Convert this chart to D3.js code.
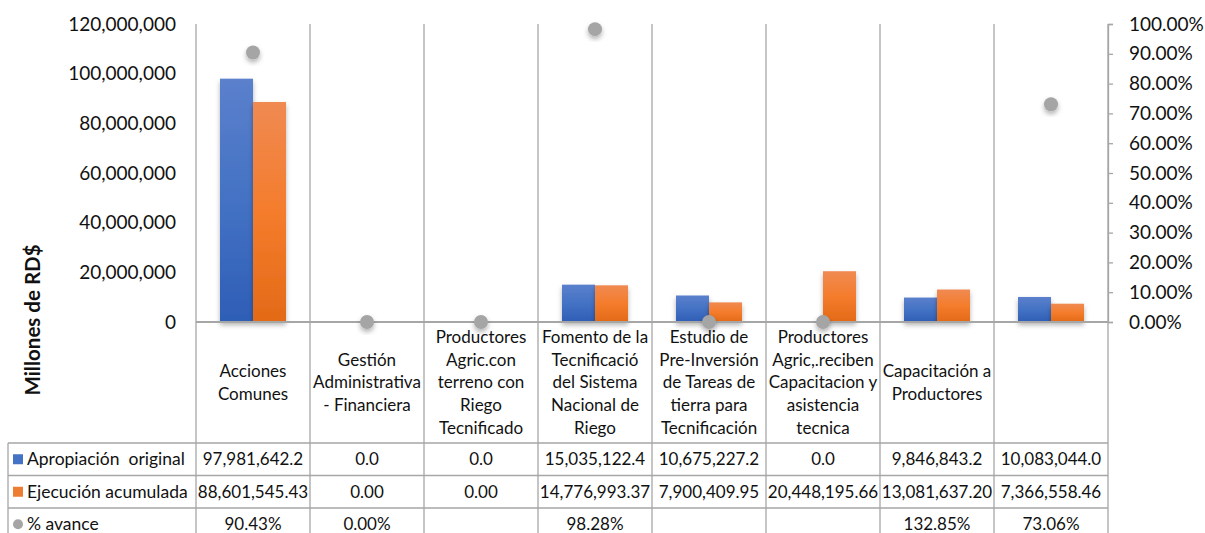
<!DOCTYPE html>
<html>
<head>
<meta charset="utf-8">
<script src="https://cdn.jsdelivr.net/npm/d3@7"></script>
<style>
  body { margin: 0; background: #fff; }
  svg { display: block; font-family: Lato, "Open Sans", sans-serif; }
</style>
</head>
<body>
<svg id="chart" width="1205" height="533"></svg>
<script>
// category labels, already split into the lines shown under the axis
const categories = [
  ["Acciones", "Comunes"],
  ["Gestión", "Administrativa", "- Financiera"],
  ["Productores", "Agric.con", "terreno con", "Riego", "Tecnificado"],
  ["Fomento de la", "Tecnificació", "del Sistema", "Nacional de", "Riego"],
  ["Estudio de", "Pre-Inversión", "de Tareas de", "tierra para", "Tecnificación"],
  ["Productores", "Agric,.reciben", "Capacitacion y", "asistencia", "tecnica"],
  ["Capacitación a", "Productores"],
  []
];

const apropiacion = [97981642.2, 0, 0, 15035122.4, 10675227.2, 0, 9846843.2, 10083044.0];
const ejecucion = [88601545.43, 0, 0, 14776993.37, 7900409.95, 20448195.66, 13081637.20, 7366558.46];
// null = empty cell in the table (Excel still plots it at 0)
const avance = [0.9043, 0, null, 0.9828, null, null, 1.3285, 0.7306];

const leftTicks = [0, 20e6, 40e6, 60e6, 80e6, 100e6, 120e6];
const rightTicks = [0, 0.1, 0.2, 0.3, 0.4, 0.5, 0.6, 0.7, 0.8, 0.9, 1];

const seriesNames = ["Apropiación  original", "Ejecución acumulada", "% avance"];

const svg = d3.select("#chart");
const gridColor = "#a6a6a6";
const textColor = "#111";

const plotLeft = 196, plotRight = 1108, plotTop = 24, plotBottom = 322;
const labelBottom = 443, rowH = 32.5, tableLeft = 8, tableBottom = 545;

const x = d3.scaleBand().domain(d3.range(categories.length)).range([plotLeft, plotRight]);
const xInner = d3.scaleBand().domain(["a", "e"]).range([24, x.bandwidth() - 24]);
const y = d3.scaleLinear().domain([0, 120e6]).range([plotBottom, plotTop]);
const yR = d3.scaleLinear().domain([0, 1]).range([plotBottom, plotTop]);

// defs: gradients + shadows
const defs = svg.append("defs");
function grad(id, top, mid, bottom) {
  const g = defs.append("linearGradient").attr("id", id)
    .attr("x1", 0).attr("y1", 0).attr("x2", 0).attr("y2", 1);
  g.append("stop").attr("offset", "0%").attr("stop-color", top);
  g.append("stop").attr("offset", "50%").attr("stop-color", mid);
  g.append("stop").attr("offset", "100%").attr("stop-color", bottom);
}
grad("gBlue", "#5b80cc", "#4472c4", "#2e5eb6");
grad("gOrange", "#f08a52", "#f47c2c", "#e36a17");

const shadow = defs.append("filter").attr("id", "shadow")
  .attr("x", "-40%").attr("y", "-40%").attr("width", "180%").attr("height", "180%");
shadow.append("feDropShadow").attr("dx", 0).attr("dy", 3).attr("stdDeviation", 2.5)
  .attr("flood-color", "#000").attr("flood-opacity", 0.3);

// vertical grid / table column lines
svg.append("g").selectAll("line")
  .data(d3.range(categories.length + 1))
  .join("line")
  .attr("x1", i => i < categories.length ? x(i) : plotRight)
  .attr("x2", i => i < categories.length ? x(i) : plotRight)
  .attr("y1", plotTop).attr("y2", tableBottom)
  .attr("stroke", gridColor).attr("stroke-width", 1.3);

// table horizontal lines
const rowLines = [labelBottom, labelBottom + rowH, labelBottom + 2 * rowH, labelBottom + 3 * rowH];
svg.append("g").selectAll("line")
  .data(rowLines)
  .join("line")
  .attr("x1", tableLeft).attr("x2", plotRight)
  .attr("y1", d => d).attr("y2", d => d)
  .attr("stroke", gridColor).attr("stroke-width", 1.3);
svg.append("line")
  .attr("x1", tableLeft).attr("x2", tableLeft)
  .attr("y1", labelBottom).attr("y2", tableBottom)
  .attr("stroke", gridColor).attr("stroke-width", 1.3);

// bars
const bars = svg.append("g");
bars.selectAll("rect.a")
  .data(apropiacion)
  .join("rect").attr("class", "a")
  .attr("x", (d, i) => x(i) + xInner("a"))
  .attr("width", xInner.bandwidth())
  .attr("y", d => y(d))
  .attr("height", d => y(0) - y(d))
  .attr("fill", "url(#gBlue)")
  .attr("filter", "url(#shadow)");
bars.selectAll("rect.e")
  .data(ejecucion)
  .join("rect").attr("class", "e")
  .attr("x", (d, i) => x(i) + xInner("e"))
  .attr("width", xInner.bandwidth())
  .attr("y", d => y(d))
  .attr("height", d => y(0) - y(d))
  .attr("fill", "url(#gOrange)")
  .attr("filter", "url(#shadow)");

// category axis line
svg.append("line")
  .attr("x1", plotLeft).attr("x2", plotRight)
  .attr("y1", plotBottom).attr("y2", plotBottom)
  .attr("stroke", gridColor).attr("stroke-width", 2);

// % avance dots (values above 100% are off the chart)
svg.append("g").selectAll("circle")
  .data(avance.map((v, i) => ({ v: v == null ? 0 : v, i })).filter(d => d.v <= 1))
  .join("circle")
  .attr("cx", d => x(d.i) + x.bandwidth() / 2)
  .attr("cy", d => yR(d.v))
  .attr("r", 7)
  .attr("fill", "#a5a5a5")
  .attr("filter", "url(#shadow)");

// left axis
const leftAxis = svg.append("g")
  .attr("transform", `translate(${plotLeft},0)`)
  .call(d3.axisLeft(y).tickValues(leftTicks).tickFormat(d3.format(",")).tickSize(0).tickPadding(20));
leftAxis.select(".domain").remove();
leftAxis.selectAll("text").attr("font-size", 19).attr("fill", textColor).attr("font-family", "Lato");

// right axis
const rightAxis = svg.append("g")
  .attr("transform", `translate(${plotRight},0)`)
  .call(d3.axisRight(yR).tickValues(rightTicks).tickFormat(d3.format(".2%")).tickSize(5).tickPadding(16));
rightAxis.select(".domain").attr("stroke", gridColor).attr("stroke-width", 1.3);
rightAxis.selectAll(".tick line").attr("stroke", gridColor).attr("stroke-width", 1.3);
rightAxis.selectAll("text").attr("font-size", 19).attr("fill", textColor).attr("font-family", "Lato");

// y axis title
svg.append("text")
  .attr("transform", "translate(33,320) rotate(-90)")
  .attr("text-anchor", "middle").attr("dy", "0.35em")
  .attr("font-size", 20.5).attr("font-weight", "bold").attr("fill", textColor)
  .text("Millones de RD$");

// category labels
const lineH = 22.7;
const catG = svg.append("g").attr("font-size", 17).attr("fill", textColor).attr("text-anchor", "middle");
categories.forEach((lines, i) => {
  const cy = (plotBottom + labelBottom) / 2;
  const t = catG.append("text")
    .attr("x", x(i) + x.bandwidth() / 2)
    .attr("y", cy - (lines.length - 1) * lineH / 2);
  lines.forEach((ln, k) => {
    t.append("tspan").attr("x", x(i) + x.bandwidth() / 2)
      .attr("dy", k === 0 ? "0.35em" : lineH).text(ln);
  });
});

// table rows
const fmt1 = d3.format(",.1f");
const fmt2 = d3.format(",.2f");
const fmtP = d3.format(".2%");
const rows = [
  { name: seriesNames[0], vals: apropiacion.map(fmt1), key: "rect", color: "#4472c4" },
  { name: seriesNames[1], vals: ejecucion.map(fmt2), key: "rect", color: "#ed7d31" },
  { name: seriesNames[2], vals: avance.map(v => v == null ? "" : fmtP(v)), key: "circle", color: "#a5a5a5" }
];
rows.forEach((r, k) => {
  const cy = labelBottom + rowH * k + rowH / 2;
  if (r.key === "rect") {
    svg.append("rect").attr("x", 13).attr("y", cy - 5).attr("width", 10).attr("height", 10).attr("fill", r.color);
  } else {
    svg.append("circle").attr("cx", 18).attr("cy", cy).attr("r", 5).attr("fill", r.color);
  }
  svg.append("text").attr("x", 27).attr("y", cy).attr("dy", "0.35em")
    .attr("font-size", 17.5).attr("fill", textColor)
    .style("white-space", "pre")
    .text(r.name);
  svg.append("g").selectAll("text")
    .data(r.vals)
    .join("text")
    .attr("x", (d, i) => x(i) + x.bandwidth() / 2)
    .attr("y", cy).attr("dy", "0.35em")
    .attr("text-anchor", "middle")
    .attr("font-size", 17).attr("fill", textColor)
    .text(d => d);
});
</script>
</body>
</html>
